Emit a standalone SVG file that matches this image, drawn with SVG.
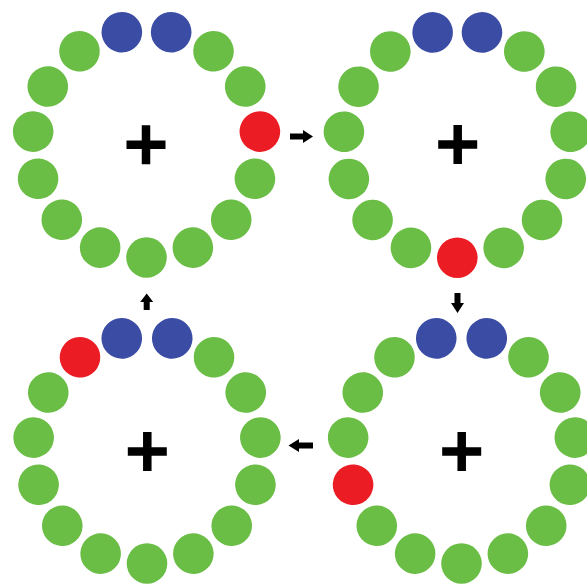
<svg xmlns="http://www.w3.org/2000/svg" width="587" height="585" viewBox="0 0 587 585">
<style>
.g{fill:#6abd45}
.b{fill:#3a4ca4}
.r{fill:#ec1c24}
.plus{stroke:#000;stroke-width:8.5;fill:none}
.arrow{fill:#000}
</style>
<defs>
<path id="plus" class="plus" d="M-19.5,0H19.5M0,-19.5V19.5"/>
</defs>
<rect width="587" height="585" fill="#fff"/>
<g id="ring-top-left" transform="translate(146.5,143.5)">
<circle class="b" cy="-114" r="20.3" transform="rotate(-12.5)"/>
<circle class="b" cy="-114" r="20.3" transform="rotate(12.5)"/>
<circle class="g" cy="-114" r="20.3" transform="rotate(36)"/>
<circle class="g" cy="-114" r="20.3" transform="rotate(60)"/>
<circle class="r" cy="-114" r="20.3" transform="rotate(84)"/>
<circle class="g" cy="-114" r="20.3" transform="rotate(108)"/>
<circle class="g" cy="-114" r="20.3" transform="rotate(132)"/>
<circle class="g" cy="-114" r="20.3" transform="rotate(156)"/>
<circle class="g" cy="-114" r="20.3" transform="rotate(180)"/>
<circle class="g" cy="-114" r="20.3" transform="rotate(204)"/>
<circle class="g" cy="-114" r="20.3" transform="rotate(228)"/>
<circle class="g" cy="-114" r="20.3" transform="rotate(252)"/>
<circle class="g" cy="-114" r="20.3" transform="rotate(276)"/>
<circle class="g" cy="-114" r="20.3" transform="rotate(300)"/>
<circle class="g" cy="-114" r="20.3" transform="rotate(324)"/>
<use href="#plus" x="-0.5" y="1.2"/>
</g>
<g id="ring-top-right" transform="translate(457.3,143.7)">
<circle class="b" cy="-114" r="20.3" transform="rotate(-12.5)"/>
<circle class="b" cy="-114" r="20.3" transform="rotate(12.5)"/>
<circle class="g" cy="-114" r="20.3" transform="rotate(36)"/>
<circle class="g" cy="-114" r="20.3" transform="rotate(60)"/>
<circle class="g" cy="-114" r="20.3" transform="rotate(84)"/>
<circle class="g" cy="-114" r="20.3" transform="rotate(108)"/>
<circle class="g" cy="-114" r="20.3" transform="rotate(132)"/>
<circle class="g" cy="-114" r="20.3" transform="rotate(156)"/>
<circle class="r" cy="-114" r="20.3" transform="rotate(180)"/>
<circle class="g" cy="-114" r="20.3" transform="rotate(204)"/>
<circle class="g" cy="-114" r="20.3" transform="rotate(228)"/>
<circle class="g" cy="-114" r="20.3" transform="rotate(252)"/>
<circle class="g" cy="-114" r="20.3" transform="rotate(276)"/>
<circle class="g" cy="-114" r="20.3" transform="rotate(300)"/>
<circle class="g" cy="-114" r="20.3" transform="rotate(324)"/>
<use href="#plus" x="0.4" y="0.8"/>
</g>
<g id="ring-bottom-left" transform="translate(147,449.5)">
<circle class="b" cy="-114" r="20.3" transform="rotate(-12.8)"/>
<circle class="b" cy="-114" r="20.3" transform="rotate(12.8)"/>
<circle class="g" cy="-114" r="20.3" transform="rotate(36)"/>
<circle class="g" cy="-114" r="20.3" transform="rotate(60)"/>
<circle class="g" cy="-114" r="20.3" transform="rotate(84)"/>
<circle class="g" cy="-114" r="20.3" transform="rotate(108)"/>
<circle class="g" cy="-114" r="20.3" transform="rotate(132)"/>
<circle class="g" cy="-114" r="20.3" transform="rotate(156)"/>
<circle class="g" cy="-114" r="20.3" transform="rotate(180)"/>
<circle class="g" cy="-114" r="20.3" transform="rotate(204)"/>
<circle class="g" cy="-114" r="20.3" transform="rotate(228)"/>
<circle class="g" cy="-114" r="20.3" transform="rotate(252)"/>
<circle class="g" cy="-114" r="20.3" transform="rotate(276)"/>
<circle class="g" cy="-114" r="20.3" transform="rotate(300)"/>
<circle class="r" cy="-114" r="20.3" transform="rotate(324)"/>
<use href="#plus" x="0.3" y="2"/>
</g>
<g id="ring-bottom-right" transform="translate(461.5,449.5)">
<circle class="b" cy="-114" r="20.3" transform="rotate(-12.8)"/>
<circle class="b" cy="-114" r="20.3" transform="rotate(12.8)"/>
<circle class="g" cy="-114" r="20.3" transform="rotate(36)"/>
<circle class="g" cy="-114" r="20.3" transform="rotate(60)"/>
<circle class="g" cy="-114" r="20.3" transform="rotate(84)"/>
<circle class="g" cy="-114" r="20.3" transform="rotate(108)"/>
<circle class="g" cy="-114" r="20.3" transform="rotate(132)"/>
<circle class="g" cy="-114" r="20.3" transform="rotate(156)"/>
<circle class="g" cy="-114" r="20.3" transform="rotate(180)"/>
<circle class="g" cy="-114" r="20.3" transform="rotate(204)"/>
<circle class="g" cy="-114" r="20.3" transform="rotate(228)"/>
<circle class="r" cy="-114" r="20.3" transform="rotate(252)"/>
<circle class="g" cy="-114" r="20.3" transform="rotate(276)"/>
<circle class="g" cy="-114" r="20.3" transform="rotate(300)"/>
<circle class="g" cy="-114" r="20.3" transform="rotate(324)"/>
<use href="#plus" x="0.2" y="2"/>
</g>
<g id="connectors">
<polygon class="arrow" points="290,133.5 303,133.5 303,130 313,136.5 303,143 303,139.5 290,139.5"/>
<polygon class="arrow" points="454.5,293 460.5,293 460.5,303 464,303 457.5,313 451,303 454.5,303"/>
<polygon class="arrow" points="313,442.5 299,442.5 299,439 288.5,445.5 299,452 299,448.5 313,448.5"/>
<polygon class="arrow" points="143.7,310 143.7,302 140.2,302 146.7,293.5 153.2,302 149.7,302 149.7,310"/>
</g>
</svg>
